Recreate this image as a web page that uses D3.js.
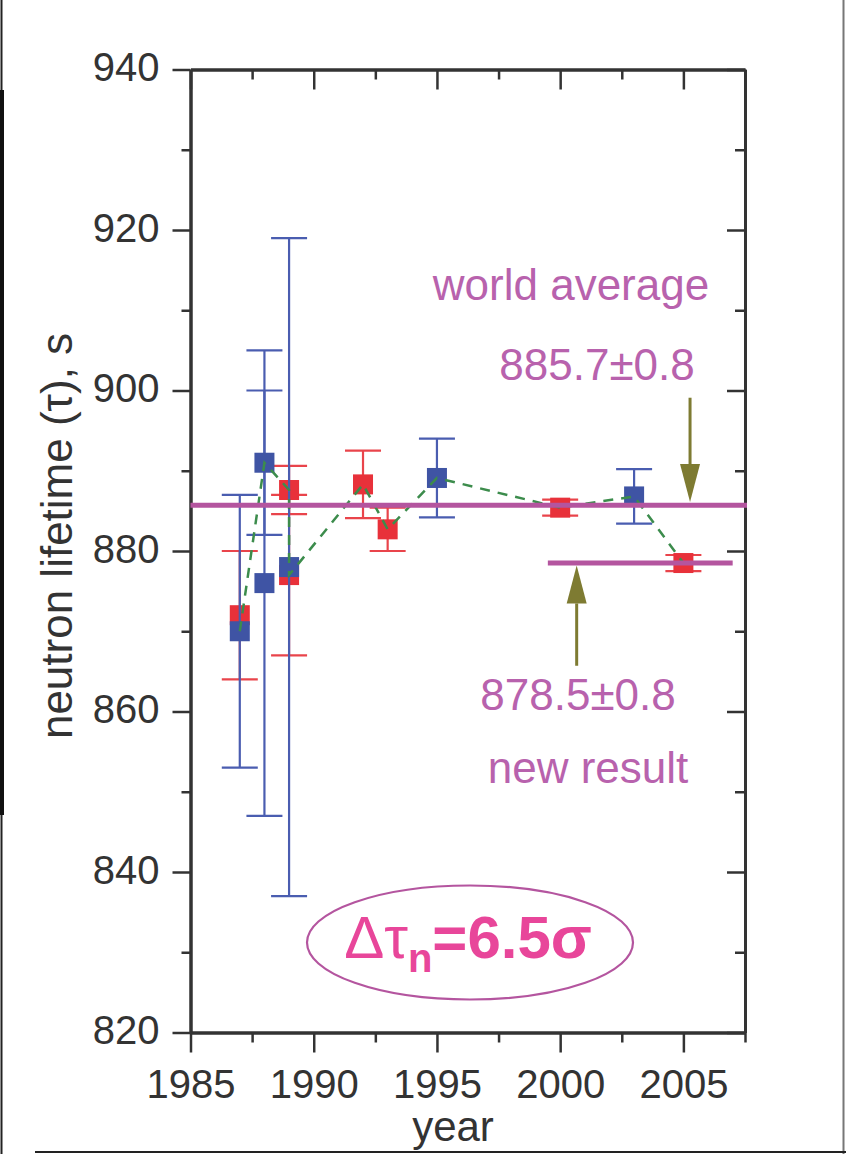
<!DOCTYPE html>
<html>
<head>
<meta charset="utf-8">
<script src="https://cdn.jsdelivr.net/npm/d3@7"></script>
<style>
  body { margin: 0; background: #fff; }
  svg { display: block; }
</style>
</head>
<body>
<svg></svg>
<script>
// values
var xTicks = [1985, 1990, 1995, 2000, 2005];
var xMinor = [1987.5, 1992.5, 1997.5, 2002.5, 2007.5];
var yTicks = [820, 840, 860, 880, 900, 920, 940];
var yMinor = [830, 850, 870, 890, 910, 930];

var blueYear = [1987, 1988, 1988, 1989, 1995, 2003];
var blueTau  = [870, 891, 876, 878, 889.1, 886.8];
var blueErr  = [17, 9, 29, 41, 4.9, 3.4];

var redYear = [1987, 1989, 1989, 1992, 1993, 2000, 2005];
var redTau  = [872, 887.6, 877, 888.3, 882.7, 885.4, 878.5];
var redErr  = [8, 3, 10, 4.2, 2.7, 1.0, 1.0];

var trendYear = [1987, 1988, 1989, 1989, 1992, 1993, 1995, 2000, 2003, 2005];
var trendTau  = [870, 891, 887.6, 877, 888.3, 882.7, 889.1, 885.4, 886.8, 878.5];

var worldAvg = 885.7;
var newResult = 878.5;
var newResultYears = [1999.5, 2007];

var width = 846, height = 1154;
var svg = d3.select("svg").attr("width", width).attr("height", height);

var x = d3.scaleLinear().domain([1985, 2007.5]).range([190.5, 745]);
var y = d3.scaleLinear().domain([820, 940]).range([1032.5, 69.5]);

var font = "'Liberation Sans', Arial, sans-serif";
var axisColor = "#333";

// page borders
svg.append("line").attr("x1", 1.5).attr("x2", 1.5).attr("y1", 0).attr("y2", height)
	.attr("stroke", "#222").attr("stroke-width", 2);
svg.append("line").attr("x1", 2).attr("x2", 2).attr("y1", 90).attr("y2", 815)
	.attr("stroke", "#111").attr("stroke-width", 4);
svg.append("line").attr("x1", 843.5).attr("x2", 843.5).attr("y1", 0).attr("y2", height)
	.attr("stroke", "#777").attr("stroke-width", 2);

function styleAxis(g){
	g.select(".domain").attr("stroke", axisColor).attr("stroke-width", 3);
	g.selectAll(".tick line").attr("stroke", axisColor).attr("stroke-width", 2.5);
	g.selectAll("text").attr("font-family", font).attr("font-size", 40).attr("fill", axisColor);
}

// bottom axis
var gb = svg.append("g").attr("transform", "translate(0," + y(820) + ")")
	.call(d3.axisBottom(x).tickValues(xTicks).tickFormat(d3.format("d")).tickSizeInner(20).tickSizeOuter(0).tickPadding(17));
styleAxis(gb);
var gbm = svg.append("g").attr("transform", "translate(0," + y(820) + ")")
	.call(d3.axisBottom(x).tickValues(xMinor).tickFormat("").tickSizeInner(10).tickSizeOuter(0));
styleAxis(gbm);

// top axis, ticks inward
var gt = svg.append("g").attr("transform", "translate(0," + y(940) + ")")
	.call(d3.axisBottom(x).tickValues(xTicks).tickFormat("").tickSizeInner(20).tickSizeOuter(0));
styleAxis(gt);
var gtm = svg.append("g").attr("transform", "translate(0," + y(940) + ")")
	.call(d3.axisBottom(x).tickValues(xMinor).tickFormat("").tickSizeInner(10).tickSizeOuter(0));
styleAxis(gtm);

// left axis
var gl = svg.append("g").attr("transform", "translate(" + x(1985) + ",0)")
	.call(d3.axisLeft(y).tickValues(yTicks).tickFormat(d3.format("d")).tickSizeInner(18).tickSizeOuter(0).tickPadding(13));
styleAxis(gl);
gl.selectAll("text").attr("dy", "0.28em");
var glm = svg.append("g").attr("transform", "translate(" + x(1985) + ",0)")
	.call(d3.axisLeft(y).tickValues(yMinor).tickFormat("").tickSizeInner(9).tickSizeOuter(0));
styleAxis(glm);

// right axis, ticks inward
var gr = svg.append("g").attr("transform", "translate(" + x(2007.5) + ",0)")
	.call(d3.axisLeft(y).tickValues(yTicks).tickFormat("").tickSizeInner(18).tickSizeOuter(0));
styleAxis(gr);
var grm = svg.append("g").attr("transform", "translate(" + x(2007.5) + ",0)")
	.call(d3.axisLeft(y).tickValues(yMinor).tickFormat("").tickSizeInner(10).tickSizeOuter(0));
styleAxis(grm);

// axis titles
svg.append("text").text("neutron lifetime (\u03c4), s")
	.attr("transform", "translate(72,536) rotate(-90)")
	.attr("text-anchor", "middle").attr("font-family", font).attr("font-size", 44).attr("fill", axisColor);
svg.append("text").text("year")
	.attr("x", 453).attr("y", 1141)
	.attr("text-anchor", "middle").attr("font-family", font).attr("font-size", 42).attr("fill", axisColor);

// error bars and squares
function series(years, taus, errs, barColor, fillColor){
	var pts = years.map(function(d, i){ return {year: d, tau: taus[i], err: errs[i]}; });
	var g = svg.append("g");
	g.selectAll("line.v").data(pts).enter().append("line")
		.attr("x1", function(d){ return x(d.year); })
		.attr("x2", function(d){ return x(d.year); })
		.attr("y1", function(d){ return y(d.tau + d.err); })
		.attr("y2", function(d){ return y(d.tau - d.err); })
		.attr("stroke", barColor).attr("stroke-width", 2.2);
	[1, -1].forEach(function(s){
		g.selectAll(null).data(pts).enter().append("line")
			.attr("x1", function(d){ return x(d.year) - 18; })
			.attr("x2", function(d){ return x(d.year) + 18; })
			.attr("y1", function(d){ return y(d.tau + s * d.err); })
			.attr("y2", function(d){ return y(d.tau + s * d.err); })
			.attr("stroke", barColor).attr("stroke-width", 2.2);
	});
	g.selectAll("rect").data(pts).enter().append("rect")
		.attr("x", function(d){ return x(d.year) - 10; })
		.attr("y", function(d){ return y(d.tau) - 10; })
		.attr("width", 20).attr("height", 20)
		.attr("fill", fillColor);
}
series(redYear, redTau, redErr, "#e9444b", "#e8313a");
series(blueYear, blueTau, blueErr, "#4a5db0", "#3f54a4");

// green dashed trend
var trend = trendYear.map(function(d, i){ return [d, trendTau[i]]; });
svg.append("path").datum(trend)
	.attr("d", d3.line().x(function(d){ return x(d[0]); }).y(function(d){ return y(d[1]); }))
	.attr("fill", "none").attr("stroke", "#3c8c4c").attr("stroke-width", 2.5)
	.attr("stroke-dasharray", "10,8");

// reference lines
var magenta = "#b4559f";
svg.append("line").attr("x1", x(1985)).attr("x2", x(2007.5) + 2)
	.attr("y1", y(worldAvg)).attr("y2", y(worldAvg))
	.attr("stroke", magenta).attr("stroke-width", 5);
svg.append("line").attr("x1", x(newResultYears[0])).attr("x2", x(newResultYears[1]))
	.attr("y1", y(newResult)).attr("y2", y(newResult))
	.attr("stroke", magenta).attr("stroke-width", 5);

// arrows
var olive = "#7e7b32";
function arrow(year, from, to){
	var xa = x(year), y0 = y(from), y1 = y(to);
	var dir = y1 > y0 ? 1 : -1;
	var headLen = 38;
	svg.append("line").attr("x1", xa).attr("x2", xa).attr("y1", y0).attr("y2", y1 - dir * headLen)
		.attr("stroke", olive).attr("stroke-width", 3);
	svg.append("path")
		.attr("d", "M" + (xa - 10) + "," + (y1 - dir * headLen) + "L" + (xa + 10) + "," + (y1 - dir * headLen) + "L" + xa + "," + y1 + "Z")
		.attr("fill", olive);
}
arrow(2005.27, 899.1, 886.1);
arrow(2000.67, 865.7, 878.2);

// labels
var labelColor = "#b862ad";
function label(txt, cx, base){
	svg.append("text").text(txt).attr("x", cx).attr("y", base)
		.attr("text-anchor", "middle").attr("font-family", font).attr("font-size", 44)
		.attr("fill", labelColor);
}
label("world average", 571, 300);
label("885.7\u00b10.8", 597, 380);
label("878.5\u00b10.8", 578, 710);
label("new result", 588, 783);

// delta tau box
svg.append("ellipse").attr("cx", 470).attr("cy", 942.5).attr("rx", 163).attr("ry", 57)
	.attr("fill", "none").attr("stroke", "#b4559f").attr("stroke-width", 2.2);
var dt = svg.append("text").attr("x", 468).attr("y", 958).attr("text-anchor", "middle")
	.attr("font-family", font).attr("font-size", 60).attr("fill", "#e8469a");
dt.append("tspan").text("\u0394\u03c4");
dt.append("tspan").text("n").attr("font-size", 40).attr("font-weight", "bold").attr("dy", 14);
dt.append("tspan").text("=6.5").attr("font-weight", "bold").attr("dy", -14);
dt.append("tspan").text("\u03c3").attr("font-weight", "bold");

// bottom border
svg.append("line").attr("x1", 35).attr("x2", width).attr("y1", 1152).attr("y2", 1152)
	.attr("stroke", "#222").attr("stroke-width", 2);
</script>
</body>
</html>
